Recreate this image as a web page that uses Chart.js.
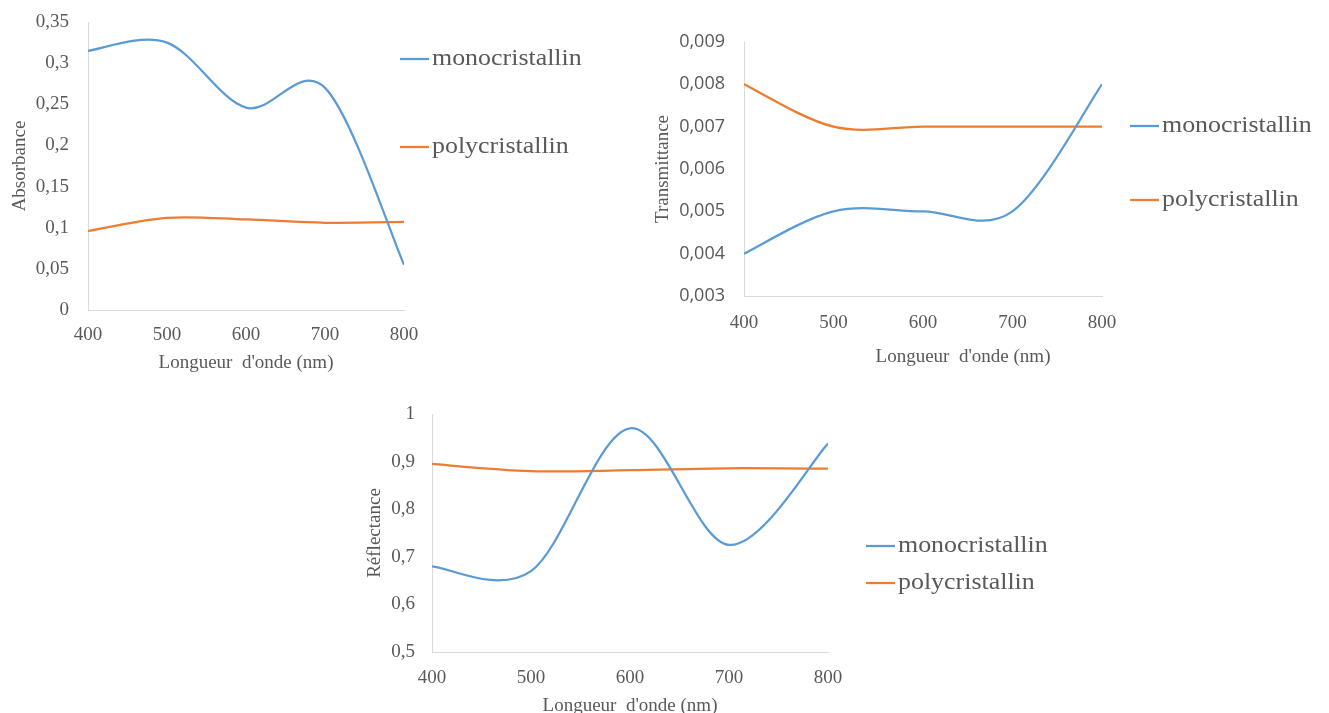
<!DOCTYPE html>
<html>
<head>
<meta charset="utf-8">
<title>Absorbance, transmittance et réflectance</title>
<script src="https://cdn.jsdelivr.net/npm/chart.js@4.4.1/dist/chart.umd.min.js"></script>
<style>
  html, body { margin: 0; padding: 0; background: #fff; overflow: hidden; }
  body { width: 1329px; height: 713px; position: relative; }
  .panel { position: absolute; }
</style>
</head>
<body>
<div class="panel" style="left:0;top:0;width:620px;height:385px"><canvas id="absChart"></canvas></div>
<div class="panel" style="left:640px;top:0;width:689px;height:385px"><canvas id="transChart"></canvas></div>
<div class="panel" style="left:340px;top:390px;width:720px;height:330px"><canvas id="reflChart"></canvas></div>

<script>
// wavelengths (nm) shared by all three panels
const wavelengths = [400, 500, 600, 700, 800];
const wavelengthTicks = [400, 500, 600, 700, 800];

// absorbance
const absMono = [0.315, 0.325, 0.246, 0.27, 0.055];
const absPoly = [0.096, 0.112, 0.110, 0.106, 0.107];
const absTicks = [0, 0.05, 0.1, 0.15, 0.2, 0.25, 0.3, 0.35];

// transmittance
const transMono = [0.004, 0.005, 0.005, 0.005, 0.008];
const transPoly = [0.008, 0.007, 0.007, 0.007, 0.007];
const transTicks = [0.003, 0.004, 0.005, 0.006, 0.007, 0.008, 0.009];

// reflectance
const reflMono = [0.68, 0.67, 0.97, 0.725, 0.938];
const reflPoly = [0.895, 0.88, 0.882, 0.886, 0.885];
const reflTicks = [0.5, 0.6, 0.7, 0.8, 0.9, 1];

const seriesNames = ["monocristallin", "polycristallin"];
const xTitle = "Longueur  d'onde (nm)";

const blue = "#5b9bd5";
const orange = "#ed7d31";
const textGray = "#595959";
const axisGray = "#d9d9d9";
const serif = '"Liberation Serif", "Times New Roman", serif';
const sans = '"Open Sans", "Segoe UI", sans-serif';

Chart.defaults.font.family = serif;
Chart.defaults.color = textGray;

// decimal comma like the French locale
const frNumber = v => String(v).replace(".", ",");

// spreadsheet-style smoothing: uniform Catmull-Rom tangents instead of
// Chart.js' distance-weighted ones
const uniformSpline = {
  id: "uniformSpline",
  beforeDatasetDraw(chart, args) {
    const meta = args.meta;
    meta.dataset.updateControlPoints(chart.chartArea, meta.iScale.axis);
    const pts = meta.data;
    pts.forEach((p, i) => {
      const prev = pts[i - 1] || p;
      const next = pts[i + 1] || p;
      const dx = (next.x - prev.x) / 6;
      const dy = (next.y - prev.y) / 6;
      p.cp1x = p.x - dx;
      p.cp1y = p.y - dy;
      p.cp2x = p.x + dx;
      p.cp2y = p.y + dy;
    });
  }
};

// legend drawn to the right of the plot, one row per dataset
const sideLegend = {
  id: "sideLegend",
  afterDraw(chart, args, opts) {
    const ctx = chart.ctx;
    ctx.save();
    ctx.textBaseline = "middle";
    ctx.textAlign = "left";
    chart.data.datasets.forEach((ds, i) => {
      const y = opts.rows[i];
      ctx.strokeStyle = ds.borderColor;
      ctx.lineWidth = 2.25;
      ctx.beginPath();
      ctx.moveTo(opts.x, y);
      ctx.lineTo(opts.x + 29, y);
      ctx.stroke();
      ctx.save();
      ctx.translate(opts.x + 32, y);
      ctx.scale(1.08, 1);
      ctx.font = "24px " + serif;
      ctx.fillStyle = textGray;
      ctx.fillText(ds.label, 0, 0);
      ctx.restore();
    });
    // free-standing axis caption (used where it sits off-centre)
    if (opts.caption) {
      ctx.font = "19px " + serif;
      ctx.fillStyle = textGray;
      ctx.textAlign = "center";
      ctx.fillText(opts.caption.text, opts.caption.x, opts.caption.y);
    }
    ctx.restore();
  }
};

function makeDatasets(mono, poly) {
  return [mono, poly].map((values, i) => ({
    label: seriesNames[i],
    data: wavelengths.map((w, k) => ({ x: w, y: values[k] })),
    borderColor: i === 0 ? blue : orange,
    backgroundColor: i === 0 ? blue : orange,
    borderWidth: 2.25,
    pointRadius: 0,
    tension: 0.4,
    fill: false
  }));
}

function buildChart(id, o) {
  return new Chart(document.getElementById(id), {
    type: "line",
    data: { datasets: makeDatasets(o.mono, o.poly) },
    plugins: [uniformSpline, sideLegend],
    options: {
      responsive: true,
      maintainAspectRatio: false,
      animation: false,
      layout: { padding: o.padding },
      plugins: {
        legend: { display: false },
        tooltip: { enabled: false },
        sideLegend: o.legend
      },
      scales: {
        x: {
          type: "linear",
          min: 400,
          max: 800,
          afterFit: s => { s.height = o.xHeight; },
          afterBuildTicks: s => { s.ticks = wavelengthTicks.map(v => ({ value: v })); },
          grid: { display: false, drawTicks: false },
          border: { display: true, color: axisGray, width: 1 },
          ticks: { padding: o.xTickPad, font: { size: 19 }, maxRotation: 0, autoSkip: false },
          title: {
            display: o.showXTitle,
            text: xTitle,
            font: { size: 19 },
            padding: { top: 0, bottom: 0 }
          }
        },
        y: {
          type: "linear",
          min: o.yTicks[0],
          max: o.yTicks[o.yTicks.length - 1],
          afterFit: s => { s.width = o.yWidth; },
          afterBuildTicks: s => { s.ticks = o.yTicks.map(v => ({ value: v })); },
          // hidden tick marks keep the labels clear of the axis line
          grid: { display: false, drawTicks: true, tickLength: o.yTickGap },
          border: { display: true, color: axisGray, width: 1 },
          ticks: {
            padding: 0,
            font: { size: o.yTickSize, family: o.yTickFont },
            callback: v => frNumber(v)
          },
          title: {
            display: true,
            text: o.yTitle,
            font: { size: 19 },
            padding: { top: o.yTitlePad, bottom: 0 }
          }
        }
      }
    }
  });
}

buildChart("absChart", {
  mono: absMono, poly: absPoly, yTicks: absTicks, yTitle: "Absorbance",
  padding: { left: 0, top: 22, right: 216, bottom: 10.6 },
  xHeight: 64.4, yWidth: 88, xTickPad: 13.5, yTickGap: 19,
  yTickSize: 19, yTickFont: serif, yTitlePad: 8.6, showXTitle: true,
  legend: { x: 400, rows: [59, 147] }
});

buildChart("transChart", {
  mono: transMono, poly: transPoly, yTicks: transTicks, yTitle: "Transmittance",
  padding: { left: 0, top: 42, right: 227, bottom: 39 },
  xHeight: 50, yWidth: 104, xTickPad: 15.5, yTickGap: 19,
  yTickSize: 18, yTickFont: sans, yTitlePad: 11.6, showXTitle: false,
  legend: { x: 490, rows: [126, 200], caption: { text: xTitle, x: 323, y: 357 } }
});

buildChart("reflChart", {
  mono: reflMono, poly: reflPoly, yTicks: reflTicks, yTitle: "Réflectance",
  padding: { left: 0, top: 24, right: 232, bottom: 2.6 },
  xHeight: 65.4, yWidth: 92, xTickPad: 15, yTickGap: 17,
  yTickSize: 19, yTickFont: serif, yTitlePad: 23.6, showXTitle: true,
  legend: { x: 526, rows: [156, 193] }
});
</script>
</body>
</html>
